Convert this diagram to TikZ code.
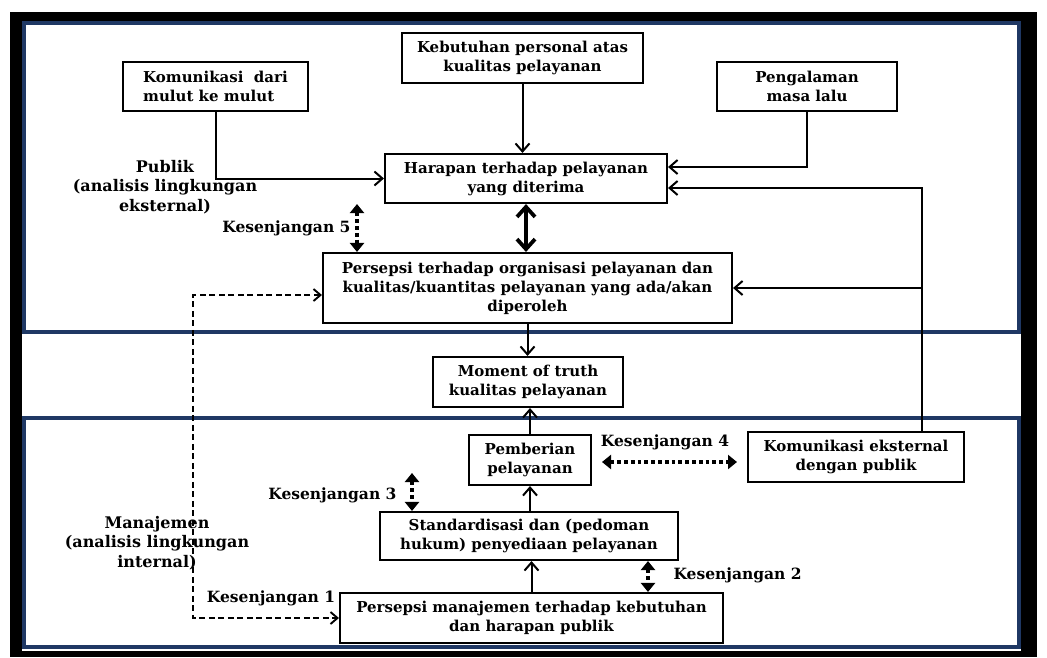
\documentclass[tikz,border=0pt]{standalone}
\usepackage{fontspec}
\setmainfont{DejaVu Serif}
\usepackage{tikz}
\usetikzlibrary{arrows.meta, positioning, calc}
\definecolor{framenavy}{RGB}{31,56,100}
\tikzset{
    % Boxes
    gbox/.style={rectangle, draw=black, line width=2.1pt, fill=white,
                inner sep=2pt, align=center, font=\fontsize{15}{19}\selectfont\bfseries},
    sidelbl/.style={align=center, font=\fontsize{16}{19.5}\selectfont\bfseries},
    gaplbl/.style={font=\fontsize{15.5}{18}\selectfont\bfseries},
    % Frames
    zone/.style={draw=framenavy, line width=3.2pt},
    % Arrows
    garrow/.style={-{Straight Barb[length=8pt, width=14pt]}, line width=2pt},
    bigarrow/.style={{Straight Barb[length=10pt, width=18pt]}-{Straight Barb[length=10pt, width=18pt]}, line width=3.8pt},
    gaparrow/.style={{Triangle[length=9pt, width=14pt]}-{Triangle[length=9pt, width=14pt]},
                line width=3.8pt, dash pattern=on 3.8pt off 3pt},
    dasharrow/.style={{Straight Barb[length=7pt, width=12pt]}-{Straight Barb[length=7pt, width=12pt]},
                line width=1.9pt, dash pattern=on 6pt off 3.5pt},
}
\begin{document}
\begin{tikzpicture}[x=1pt, y=-1pt]
\useasboundingbox (0,0) rectangle (1047,657);

% Outer frame and zones
\fill[black] (10,12) rectangle (1037,657);
\fill[white] (22,22) rectangle (1021,651);
\draw[zone] (24,23) rectangle (1019,332);
\draw[zone] (24,418) rectangle (1019,647);

% Public side
\node[gbox, minimum width=185pt, minimum height=49pt, align=left] (kom) at (215.5,86.5) {Komunikasi\ \ dari\\mulut ke mulut};
\node[gbox, minimum width=241pt, minimum height=50pt] (keb) at (522.5,58) {Kebutuhan personal atas\\kualitas pelayanan};
\node[gbox, minimum width=180pt, minimum height=49pt] (pen) at (807,86.5) {Pengalaman\\masa lalu};
\node[gbox, minimum width=282pt, minimum height=49pt] (har) at (526,178.5) {Harapan terhadap pelayanan\\yang diterima};
\node[gbox, minimum width=409pt, minimum height=70pt] (per) at (527.5,288) {Persepsi terhadap organisasi pelayanan dan\\kualitas/kuantitas pelayanan yang ada/akan\\diperoleh};

% Middle
\node[gbox, minimum width=190pt, minimum height=50pt] (mom) at (528,382) {Moment of truth\\kualitas pelayanan};

% Management side
\node[gbox, minimum width=122pt, minimum height=50pt] (pem) at (530,460) {Pemberian\\pelayanan};
\node[gbox, minimum width=216pt, minimum height=50pt] (eks) at (856,457) {Komunikasi eksternal\\dengan publik};
\node[gbox, minimum width=298pt, minimum height=48pt] (std) at (529,536) {Standardisasi dan (pedoman\\hukum) penyediaan pelayanan};
\node[gbox, minimum width=383pt, minimum height=50pt] (pmj) at (531.5,618) {Persepsi manajemen terhadap kebutuhan\\dan harapan publik};

% Side labels
\node[sidelbl] (pub) at (165,187) {Publik\\(analisis lingkungan\\eksternal)};
\node[sidelbl] (man) at (157,543) {Manajemen\\(analisis lingkungan\\internal)};

% Arrows into expectations
\draw[garrow] (kom.south) |- (har.west);
\draw[garrow] (keb.south) -- (keb.south |- har.north);
\draw[garrow] (pen.south) |- ([yshift=11.5pt]har.east);
\draw[garrow] ([xshift=66pt]eks.north) |- ([yshift=-9.5pt]har.east);
\draw[garrow] ([xshift=66pt]eks.north |- per.east) -- (per.east);
\draw[bigarrow] (har.south) -- (per.north -| har.south);

% Vertical flow
\draw[garrow] (per.south) -- (per.south |- mom.north);
\draw[garrow] (pem.north) -- (pem.north |- mom.south);
\draw[garrow] (std.north -| pem.south) -- (pem.south);
\draw[garrow] (pmj.north) -- (pmj.north |- std.south);

% Gaps
\coordinate (g5) at (357,228);
\draw[gaparrow] (g5 |- har.south) -- (g5 |- per.north);
\node[gaplbl, left=3pt of g5] (k5) {Kesenjangan 5};

\coordinate (g4a) at (602,462);
\coordinate (g4b) at (737,462);
\draw[gaparrow] (g4a) -- (g4b);
\node[gaplbl] (k4) at (665,442) {Kesenjangan 4};

\coordinate (g3) at (412,473);
\draw[gaparrow] (g3) -- (g3 |- std.north);
\node[gaplbl, anchor=east] (k3) at (400,495) {Kesenjangan 3};

\coordinate (g2) at (648,575);
\draw[gaparrow] (g2 |- std.south) -- (g2 |- pmj.north);
\node[gaplbl, right=22pt of g2] (k2) {Kesenjangan 2};

\coordinate (g1) at (193,618);
\draw[dasharrow] ([yshift=-7pt]per.west) -| (g1) -- (pmj.west);
\node[gaplbl] (k1) at (271,598) {Kesenjangan 1};
\end{tikzpicture}
\end{document}
